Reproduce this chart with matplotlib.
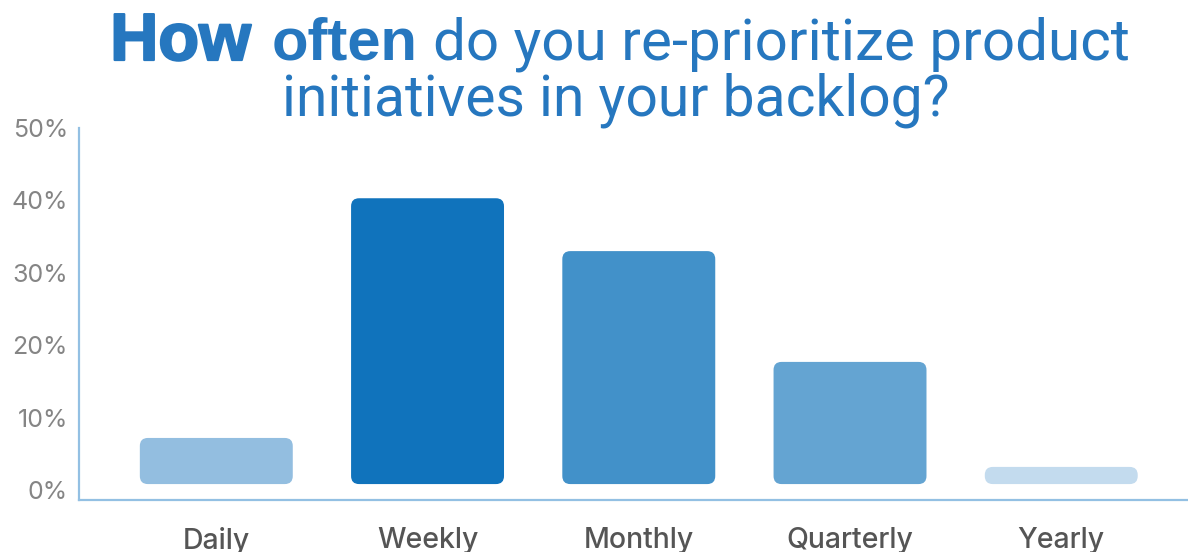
import matplotlib
matplotlib.use("Agg")
import matplotlib.pyplot as plt
import matplotlib.patheffects as pe
from matplotlib.patches import FancyBboxPatch

# datos
categorias = ["Daily", "Weekly", "Monthly", "Quarterly", "Yearly"]
valores = [7.2, 40.3, 33.0, 17.7, 3.2]
colores = ["#93bee0", "#1073bc", "#4291c9", "#64a4d2", "#c3dbee"]
ticks_y = [0, 10, 20, 30, 40, 50]

azul_titulo = "#2677bf"
color_eje = "#93c0e3"

W, H = 1188, 552
fig = plt.figure(figsize=(W / 100, H / 100), dpi=100)
ax = fig.add_axes([79 / W, 1 - 499.5 / H, 1 - 79 / W, (499.5 - 128) / H])

ax.set_xlim(-0.65, 4.6)
ax.set_ylim(-1.3, 50)

# escala en pixeles para redondear las esquinas
p0 = ax.transData.transform((0, 0))
p1 = ax.transData.transform((1, 1))
px_x = p1[0] - p0[0]
px_y = p1[1] - p0[1]
aspecto = px_x / px_y

ancho = 0.724
base = 0.83
radio_px = 8
for i, (v, c) in enumerate(zip(valores, colores)):
    alto = v - base
    r = min(radio_px, alto * px_y / 2) / px_x
    caja = FancyBboxPatch((i - ancho / 2, base), ancho, alto,
                          boxstyle=f"round,pad=0,rounding_size={r}",
                          mutation_aspect=aspecto, facecolor=c,
                          edgecolor="none")
    ax.add_patch(caja)

for s in ["top", "right"]:
    ax.spines[s].set_visible(False)
for s in ["left", "bottom"]:
    ax.spines[s].set_color(color_eje)
    ax.spines[s].set_linewidth(1.6)

ax.set_yticks(ticks_y)
ax.set_yticklabels([f"{t}%" for t in ticks_y], fontsize=18, color="#858585",
                   family="Inter")
ax.set_xticks(range(len(categorias)))
ax.set_xticklabels(categorias, fontsize=20.5, color="#555555", family="Inter",
                   fontweight="medium")
ax.tick_params(axis="y", length=0, pad=8)
ax.tick_params(axis="x", length=0, pad=20)

# titulo en dos lineas, la primera con partes en negrita
fig.canvas.draw()
rend = fig.canvas.get_renderer()

grueso = [pe.withStroke(linewidth=1.6, foreground=azul_titulo)]
partes = [("How", 48, "bold", "Liberation Sans", grueso),
          ("often", 43, "bold", "Liberation Sans", None),
          ("do you re-prioritize product", 42, "normal", "Roboto", None)]
espacios = [21, 15, 0]
textos = []
for txt, tam, peso, fam, efecto in partes:
    t = fig.text(0, 0, txt, fontsize=tam, fontweight=peso, color=azul_titulo,
                 family=fam, va="baseline", ha="left", transform=None,
                 path_effects=efecto)
    textos.append(t)
anchos = [t.get_window_extent(rend).width for t in textos]
total = sum(anchos) + sum(espacios)
x = 620 - total / 2
for t, a, e in zip(textos, anchos, espacios):
    t.set_position((x, H - 60))
    x += a + e

fig.text(616, H - 115, "initiatives in your backlog?", fontsize=41,
         color=azul_titulo, family="Roboto", va="baseline", ha="center",
         transform=None)

fig.savefig("out.png", dpi=100)
